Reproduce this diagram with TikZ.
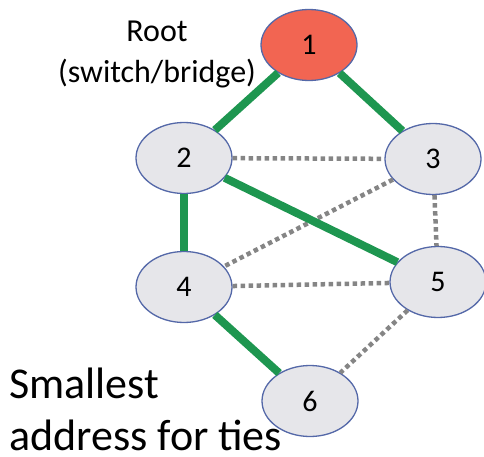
\documentclass[tikz,border=0pt]{standalone}
\usepackage{fontspec}
\setmainfont{Carlito}
\usetikzlibrary{shapes.geometric}
\definecolor{nodefill}{HTML}{E6E6EA}
\definecolor{nodeedge}{HTML}{5468A8}
\definecolor{rootfill}{HTML}{F26552}
\definecolor{treegreen}{HTML}{1E9650}
\definecolor{dotgray}{HTML}{858585}
\tikzset{
  sw/.style={ellipse, draw=nodeedge, line width=1.3pt, fill=nodefill, minimum width=96pt, minimum height=71pt, inner sep=0pt, font=\fontsize{30}{36}\selectfont},
  tree/.style={draw=treegreen, line width=8pt},
  alt/.style={draw=dotgray, line width=4.5pt, dash pattern=on 4.5pt off 3.5pt},
  lbl/.style={font=\fontsize{32}{41}\selectfont, align=center, inner sep=0pt},
  note/.style={font=\fontsize{44}{53}\selectfont, inner sep=0pt, anchor=base west}
}
\begin{document}
\begin{tikzpicture}[x=1pt,y=-1pt]
\useasboundingbox (0,0) rectangle (484,457);
\node[sw, fill=rootfill] (n1) at (309,45) {1};
\node[sw] (n2) at (184,158) {2};
\node[sw] (n3) at (433,159) {3};
\node[sw] (n4) at (184,287) {4};
\node[sw] (n5) at (438,282) {5};
\node[sw] (n6) at (310,401) {6};
\draw[alt] (n2) -- (n3);
\draw[alt] (n3) -- (n4);
\draw[alt] (n3) -- (n5);
\draw[alt] (n4) -- (n5);
\draw[alt] (n5) -- (n6);
\draw[tree] (n1) -- (n2);
\draw[tree] (n1) -- (n3);
\draw[tree] (n2) -- (n4);
\draw[tree] (n2) -- (n5);
\draw[tree] (n4) -- (n6);
\node[lbl] (root) at (157,54) {Root\\(switch/bridge)};
\node[note] (tie) at (9,398) {Smallest};
\node[note] (tie2) at (9,450) {address for ties};
\end{tikzpicture}
\end{document}
